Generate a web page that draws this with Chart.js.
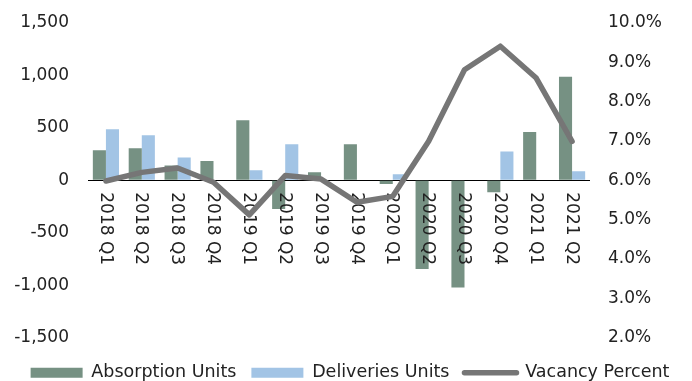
<!DOCTYPE html>
<html>
<head>
<meta charset="utf-8">
<script src="https://cdn.jsdelivr.net/npm/chart.js@4/dist/chart.umd.min.js"></script>
<style>
  html, body { margin: 0; padding: 0; background: #fff; }
  #wrap { width: 692px; height: 381px; }
</style>
</head>
<body>
<div id="wrap"><canvas id="absorptionChart"></canvas></div>
<script>
  const quarters = ['2018 Q1', '2018 Q2', '2018 Q3', '2018 Q4', '2019 Q1', '2019 Q2', '2019 Q3',
    '2019 Q4', '2020 Q1', '2020 Q2', '2020 Q3', '2020 Q4', '2021 Q1', '2021 Q2'];
  const absorptionUnits = [285, 305, 140, 184, 573, -274, 76, 344, -35, -847, -1022, -115, 461, 987];
  const deliveriesUnits = [487, 430, 217, 0, 95, 344, 0, 0, 58, 0, 0, 274, 0, 86];
  const vacancyPercent = [5.98, 6.2, 6.31, 5.95, 5.12, 6.12, 6.03, 5.44, 5.59, 6.99, 8.81, 9.41, 8.6, 6.99];

  const textColor = '#222';
  const fontFamily = '"DejaVu Sans", sans-serif';

  // quarter labels hang below the zero line, reading top to bottom,
  // drawn after the bars but before the vacancy line
  const quarterLabels = {
    id: 'quarterLabels',
    beforeDatasetDraw(chart, args) {
      if (args.index !== 2) return;
      const { ctx, scales } = chart;
      const y0 = scales.y.getPixelForValue(0);
      ctx.save();
      ctx.font = '17px ' + fontFamily;
      ctx.fillStyle = textColor;
      ctx.textAlign = 'left';
      ctx.textBaseline = 'middle';
      quarters.forEach((q, i) => {
        const x = scales.x.getPixelForValue(i);
        ctx.save();
        ctx.translate(x - 1, y0 + 12);
        ctx.rotate(Math.PI / 2);
        ctx.fillText(q, 0, 0);
        ctx.restore();
      });
      ctx.restore();
    }
  };

  // fixed axis widths; drop the extra top/bottom room Chart.js reserves for tick padding
  const fixAxis = (width) => (scale) => {
    scale.width = width;
    scale.paddingTop = 0;
    scale.paddingBottom = 0;
  };

  const ctx = document.getElementById('absorptionChart').getContext('2d');
  const absorptionChart = new Chart(ctx, {
    data: {
      labels: quarters,
      datasets: [
        {
          type: 'bar',
          label: 'Absorption Units',
          data: absorptionUnits,
          backgroundColor: '#769183',
          yAxisID: 'y',
          order: 1
        },
        {
          type: 'bar',
          label: 'Deliveries Units',
          data: deliveriesUnits,
          backgroundColor: '#a2c4e5',
          yAxisID: 'y',
          order: 1
        },
        {
          type: 'line',
          label: 'Vacancy Percent',
          data: vacancyPercent,
          borderColor: '#767676',
          backgroundColor: '#767676',
          borderWidth: 5.5,
          borderCapStyle: 'round',
          borderJoinStyle: 'round',
          pointRadius: 0,
          tension: 0,
          yAxisID: 'y1',
          order: 0
        }
      ]
    },
    options: {
      responsive: true,
      maintainAspectRatio: false,
      animation: false,
      layout: {
        padding: { top: 23, left: 8, right: 0, bottom: -10.5 }
      },
      datasets: {
        bar: { categoryPercentage: 0.73, barPercentage: 1.0 }
      },
      plugins: {
        tooltip: { enabled: false },
        legend: {
          position: 'bottom',
          labels: {
            usePointStyle: true,
            pointStyleWidth: 52,
            boxHeight: 10,
            padding: 15,
            color: textColor,
            font: { family: fontFamily, size: 17.5 },
            sort: (a, b) => a.datasetIndex - b.datasetIndex,
            generateLabels(chart) {
              const items = Chart.defaults.plugins.legend.labels.generateLabels(chart);
              return items.map((item) => {
                const isLine = chart.data.datasets[item.datasetIndex].type === 'line';
                item.pointStyle = isLine ? 'line' : 'rect';
                if (isLine) {
                  item.lineWidth = 5.5;
                  item.lineCap = 'round';
                } else {
                  item.lineWidth = 0;
                }
                return item;
              });
            }
          }
        }
      },
      scales: {
        x: {
          grid: { display: false },
          border: { display: false },
          ticks: { display: false },
          afterFit(scale) { scale.height = 11.5; }
        },
        y: {
          position: 'left',
          min: -1500,
          max: 1500,
          ticks: {
            stepSize: 500,
            padding: 19,
            color: textColor,
            font: { family: fontFamily, size: 17 },
            callback: (v) => v.toLocaleString('en-US')
          },
          grid: {
            drawTicks: false,
            color: (c) => (c.tick && c.tick.value === 0 ? '#000' : 'transparent'),
            lineWidth: 1
          },
          border: { display: false },
          afterFit: fixAxis(80)
        },
        y1: {
          position: 'right',
          min: 2,
          max: 10,
          ticks: {
            stepSize: 1,
            padding: 18,
            color: textColor,
            font: { family: fontFamily, size: 17 },
            callback: (v) => v.toFixed(1) + '%'
          },
          grid: { display: false, drawTicks: false },
          border: { display: false },
          afterFit: fixAxis(102)
        }
      }
    },
    plugins: [quarterLabels]
  });
</script>
</body>
</html>
